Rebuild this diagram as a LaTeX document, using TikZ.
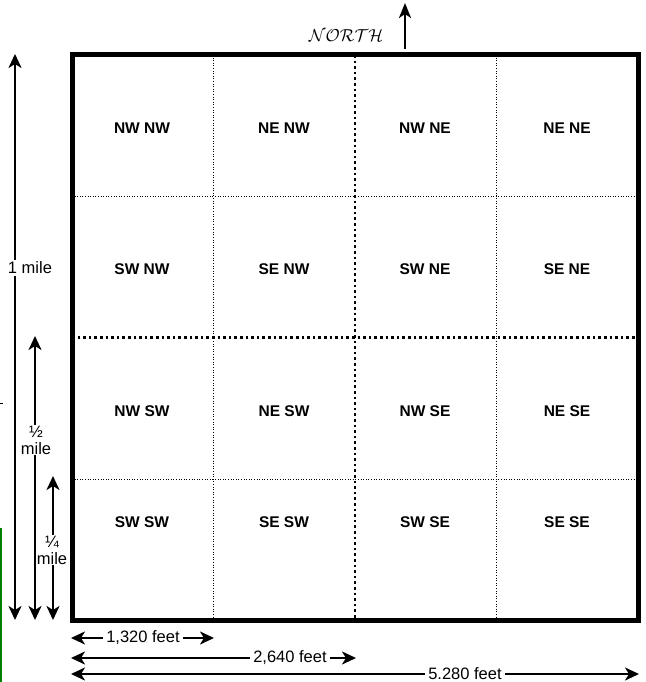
\documentclass[tikz,border=0pt]{standalone}
\usepackage{fontspec}
\setmainfont{Liberation Sans}
\usetikzlibrary{arrows.meta}
\begin{document}
\begin{tikzpicture}[x=1pt,y=-1pt,
  cell/.style={font=\bfseries\fontsize{15.5}{17}\selectfont},
  dimlabel/.style={font=\fontsize{16.5}{17}\selectfont, fill=white, inner sep=1.5pt, align=center},
  dimarrow/.style={line width=2.3pt, {Stealth[length=14pt,width=13pt,inset=4pt]}-{Stealth[length=14pt,width=13pt,inset=4pt]}},
  thingrid/.style={line width=1pt, dash pattern=on 1pt off 1.6pt},
  thickgrid/.style={line width=2.6pt, dash pattern=on 2.6pt off 3pt},
  border/.style={line width=5pt}]
\useasboundingbox (0,0) rectangle (645,682);
% frame corners
\coordinate (TL) at (72,55);
\coordinate (BR) at (638,620);
% grid line ends
\foreach \x/\n in {213.5/a,355/b,496.5/c}{
  \coordinate (top\n) at (\x,55);
  \coordinate (bot\n) at (\x,620);
}
\foreach \y/\n in {196/a,337.5/b,479/c}{
  \coordinate (lef\n) at (72,\y);
  \coordinate (rig\n) at (638,\y);
}
\draw[thingrid] (topa) -- (bota);
\draw[thingrid] (topc) -- (botc);
\draw[thingrid] (lefa) -- (riga);
\draw[thingrid] (lefc) -- (rigc);
\draw[thickgrid] (topb) -- (botb);
\draw[thickgrid] (lefb) -- (rigb);
\draw[border] (TL) rectangle (BR);
% cell labels
\node[cell] (nwnw) at (142,128) {NW NW};
\node[cell] (nenw) at (284,128) {NE NW};
\node[cell] (nwne) at (425,128) {NW NE};
\node[cell] (nene) at (567,128) {NE NE};
\node[cell] (swnw) at (142,269) {SW NW};
\node[cell] (senw) at (284,269) {SE NW};
\node[cell] (swne) at (425,269) {SW NE};
\node[cell] (sene) at (567,269) {SE NE};
\node[cell] (nwsw) at (142,411) {NW SW};
\node[cell] (nesw) at (284,411) {NE SW};
\node[cell] (nwse) at (425,411) {NW SE};
\node[cell] (nese) at (567,411) {NE SE};
\node[cell] (swsw) at (142,522) {SW SW};
\node[cell] (sesw) at (284,522) {SE SW};
\node[cell] (swse) at (425,522) {SW SE};
\node[cell] (sese) at (567,522) {SE SE};
% north
\node[font=\fontsize{16.5}{18}\selectfont] (north) at (346,36) {$\mathcal{NORTH}$};
\coordinate (na) at (405,49);
\coordinate (nb) at (405,3);
\draw[line width=2.3pt, -{Stealth[length=15pt,width=12pt,inset=4pt]}] (na) -- (nb);
% left dimension arrows
\coordinate (m1t) at (15,54);   \coordinate (m1b) at (15,620);
\coordinate (m2t) at (35,336);  \coordinate (m2b) at (35,620);
\coordinate (m4t) at (53,476);  \coordinate (m4b) at (53,620);
\draw[dimarrow] (m1t) -- (m1b);
\draw[dimarrow] (m2t) -- (m2b);
\draw[dimarrow] (m4t) -- (m4b);
\node[dimlabel] (l1) at (30,268) {1 mile};
\node[dimlabel, inner sep=1pt] (l2) at (36,440) {½\\mile};
\node[dimlabel, inner sep=1pt] (l4) at (52,550) {¼\\mile};
% bottom dimension arrows
\coordinate (f1l) at (71,638);  \coordinate (f1r) at (214,638);
\coordinate (f2l) at (71,658);  \coordinate (f2r) at (356,658);
\coordinate (f3l) at (71,674);  \coordinate (f3r) at (639,674);
\draw[dimarrow] (f1l) -- (f1r);
\draw[dimarrow] (f2l) -- (f2r);
\draw[dimarrow] (f3l) -- (f3r);
\node[dimlabel, inner sep=3pt] (d1) at (143,638) {1,320 feet};
\node[dimlabel, inner sep=3pt] (d2) at (290,658) {2,640 feet};
\node[dimlabel, inner sep=3pt] (d3) at (465,673.5) {5.280 feet};
% stray marks
\coordinate (ga) at (1,528); \coordinate (gb) at (1,682);
\draw[green!50!black, line width=1.5pt] (ga) -- (gb);
\coordinate (ta) at (0,403); \coordinate (tb) at (3,403);
\draw[line width=1pt] (ta) -- (tb);
\end{tikzpicture}
\end{document}
